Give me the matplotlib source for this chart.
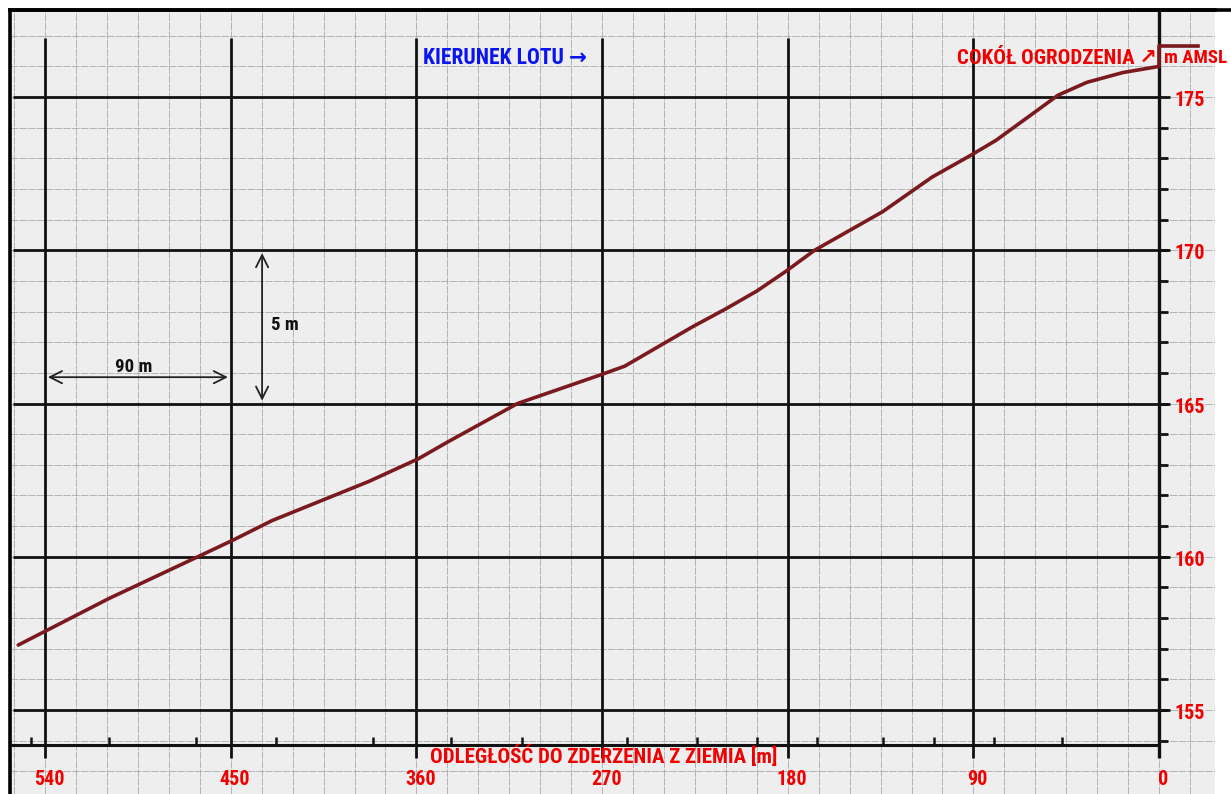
import numpy as np
import matplotlib
matplotlib.use("Agg")
import matplotlib.pyplot as plt
from matplotlib.lines import Line2D
from matplotlib import font_manager

# profile: distance to impact [m] vs altitude [m AMSL]
dist_m = [553, 509, 466, 449, 430, 383, 359, 345, 311, 271, 259, 226, 210, 195,
          181, 167, 134, 110, 91, 79, 61, 49, 35, 17.5, 0]
alt_m = [157.12, 158.64, 160.0, 160.54, 161.18, 162.46, 163.2, 163.74, 165.0, 165.93,
         166.22, 167.51, 168.09, 168.67, 169.31, 170.0, 171.26, 172.39, 173.11, 173.59,
         174.47, 175.06, 175.48, 175.8, 176.0]

# fence base step at the end of the profile
fence_dist = [0, 0, -18.9]
fence_alt = [176.0, 176.65, 176.65]

# small marks on the distance axis
mark_dist = [547, 509, 467, 428, 381, 343, 309, 258, 224, 195, 166, 134, 109, 80, 47]

x_major = [540, 450, 360, 270, 180, 90, 0]
y_major = [155, 160, 165, 170, 175]


def is_bold(w):
    if isinstance(w, str):
        return w.lower() in ("bold", "heavy", "black", "extra bold", "semibold", "demibold")
    return w >= 600


# narrow bold face like the scan, whichever is available with a bold cut
bold_names = set(f.name for f in font_manager.fontManager.ttflist if is_bold(f.weight))
narrow_pick = "Liberation Sans"
for cand in ["Liberation Sans Narrow", "Arial Narrow", "Archivo Narrow", "Roboto Condensed",
             "PT Sans Narrow", "Fira Sans Condensed", "IBM Plex Sans Condensed",
             "Encode Sans Condensed", "Barlow Semi Condensed", "Sofia Sans Condensed",
             "Open Sans Condensed", "Pragati Narrow"]:
    if cand in bold_names:
        narrow_pick = cand
        break
narrow = [narrow_pick, "DejaVu Sans"]

red = "#f00000"
line_col = "#7a1a1e"

fig = plt.figure(figsize=(12.31, 7.94), dpi=100)
fig.patch.set_facecolor("white")
ax = fig.add_axes([10 / 1231, 0, 1205 / 1231, 784 / 794])
ax.set_facecolor("#eeeeee")

x_lo, x_hi = 557.0, -27.1
y_lo, y_hi = 152.26, 177.84
ax.set_xlim(x_lo, x_hi)
ax.set_ylim(y_lo, y_hi)

# graph paper fine grid
ax.set_xticks(np.arange(-15, 557, 15), minor=True)
ax.set_yticks(np.arange(153, 178, 1), minor=True)
ax.set_xticks([])
ax.set_yticks([])
ax.tick_params(which="both", length=0)
ax.grid(which="minor", color="#a4a4a4", lw=0.55, ls=(0, (10, 1.5)))

for s in ["right", "bottom"]:
    ax.spines[s].set_visible(False)
for s in ["top", "left"]:
    ax.spines[s].set_linewidth(2.6)
    ax.spines[s].set_color("black")

# heavy lines of the sheet
ax.hlines(y_major, 555.5, -5.3, color="#111111", lw=2.0, zorder=3)
ax.vlines(x_major[:-1], 153.43, 176.93, color="#111111", lw=2.0, zorder=3)
ax.vlines(0, 153.45, y_hi, color="#111111", lw=2.4, zorder=3)
ax.hlines(153.86, x_lo, 0, color="#111111", lw=2.2, zorder=3)
ax.hlines(np.arange(154, 175, 1), 0, -4.4, color="#111111", lw=2.0, zorder=3)
ax.vlines(mark_dist, 153.86, 154.12, color="#111111", lw=1.8, zorder=3)

# profile
ax.plot(dist_m, alt_m, color=line_col, lw=2.6, zorder=5, solid_capstyle="round")
ax.plot(fence_dist, fence_alt, color=line_col, lw=2.6, zorder=5)

# tick labels
for v in y_major:
    ax.text(-7.5, v - 0.12, str(v), color=red, fontsize=14.5, fontweight="bold",
            family=narrow, ha="left", va="center", zorder=6)
for v in x_major:
    ax.text(v - 2, 152.73, str(v), color=red, fontsize=14.5, fontweight="bold",
            family=narrow, ha="center", va="center", zorder=6)

ax.text(269, 153.5, "ODLEGŁOŚĆ DO ZDERZENIA Z ZIEMIA [m]", color=red, fontsize=15,
        fontweight="bold", family=narrow, ha="center", va="center", zorder=6)
ax.text(357, 176.26, "KIERUNEK LOTU \u2192", color="#0a14f0", fontsize=15.5,
        fontweight="bold", family=narrow, ha="left", va="center", zorder=6)
ax.text(1, 176.26, "COKÓŁ OGRODZENIA \u2197", color=red, fontsize=15,
        fontweight="bold", family=narrow, ha="right", va="center", zorder=6)
ax.text(-2.3, 176.26, "m AMSL", color=red, fontsize=13.5,
        fontweight="bold", family=narrow, ha="left", va="center", zorder=6)

# scale markers
ax.annotate("", xy=(450, 165.86), xytext=(540, 165.86),
            arrowprops=dict(arrowstyle="<->", color="#222222", lw=1.3, mutation_scale=22),
            zorder=6)
ax.text(497, 166.19, "90 m", color="#111111", fontsize=13.5, fontweight="bold",
        family=narrow, ha="center", va="center", zorder=6)
ax.annotate("", xy=(434.8, 165.0), xytext=(434.8, 170.0),
            arrowprops=dict(arrowstyle="<->", color="#222222", lw=1.3, mutation_scale=22),
            zorder=6)
ax.text(424, 167.56, "5 m", color="#111111", fontsize=13.5, fontweight="bold",
        family=narrow, ha="center", va="center", zorder=6)

# top border continues over the white margin on the right
fig.add_artist(Line2D([10 / 1231, 1], [784 / 794, 784 / 794], color="black", lw=2.6,
                      transform=fig.transFigure))

fig.savefig("out.png", dpi=100, facecolor="white")
